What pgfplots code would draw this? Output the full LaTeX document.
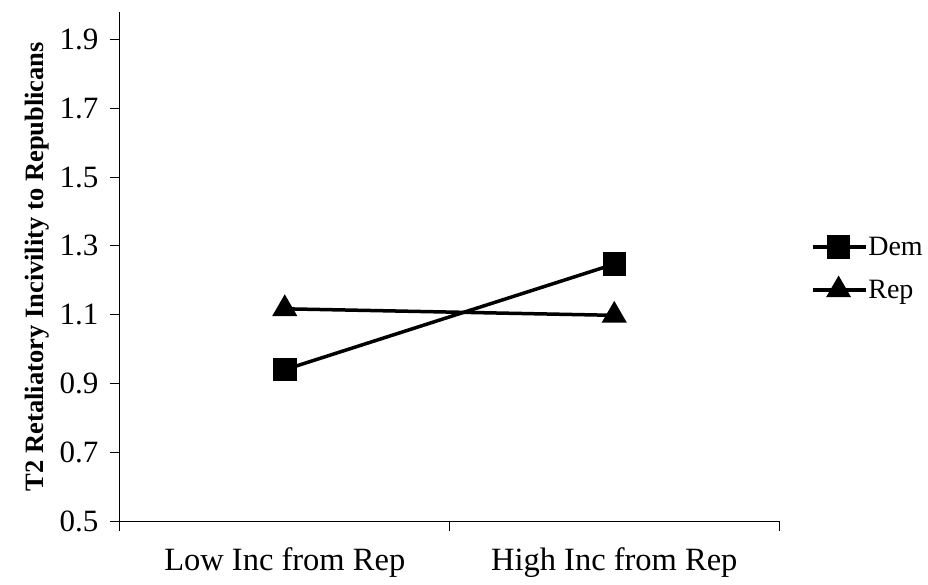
\documentclass[border=0pt]{standalone}
\usepackage{pgfplots}
\pgfplotsset{compat=1.18}
\usepackage{fontspec}
\setmainfont{Liberation Serif}
\begin{document}
\begin{tikzpicture}
\begin{axis}[
  scale only axis,
  width=659pt, height=509pt,
  xmin=0, xmax=2, ymin=0.5, ymax=1.98,
  axis lines=left,
  axis line style={line width=1pt, -},
  xtick={0,1,2}, xticklabels={},
  extra x ticks={0.5,1.5},
  extra x tick labels={Low Inc from Rep, High Inc from Rep},
  extra x tick style={major tick length=0pt, tick label style={yshift=-23pt, font=\fontsize{32.5}{38}\selectfont}},
  ytick={0.5,0.7,...,1.9},
  y tick label style={/pgf/number format/fixed, /pgf/number format/fixed zerofill, /pgf/number format/precision=1, xshift=-8pt, font=\fontsize{31}{36}\selectfont},
  /pgf/number format/assume math mode=true,
  tick style={black, line width=1pt},
  major tick length=10pt,
  tick align=outside,
  ylabel={\textbf{T2 Retaliatory Incivility to Republicans}},
  ylabel style={font=\fontsize{26.5}{31}\selectfont, yshift=4pt},
  legend style={draw=none, at={(1.048,0.56)}, anchor=north west, font=\fontsize{28}{32}\selectfont,
    row sep=21pt, inner sep=0pt, nodes={inner sep=1pt}},
  legend cell align=left,
  legend image code/.code={
    \draw[#1, mark repeat=2, mark phase=2] plot coordinates {(0pt,0pt) (26pt,0pt) (53pt,0pt)};
  },
]
\path (rel axis cs:0,0) coordinate (O);
\addplot[black, line width=3.5pt, mark=square*, mark size=10pt, mark options={solid}] coordinates {(0.5,0.94) (1.5,1.247)};
\addlegendentry{Dem}
\addplot[black, line width=3.5pt, mark=triangle*, mark size=11pt, mark options={solid}] coordinates {(0.5,1.117) (1.5,1.098)};
\addlegendentry{Rep}
\end{axis}
\pgfresetboundingbox
\path (O) ++(-120pt,-63pt) rectangle ++(928pt,584pt);
\end{tikzpicture}
\end{document}
